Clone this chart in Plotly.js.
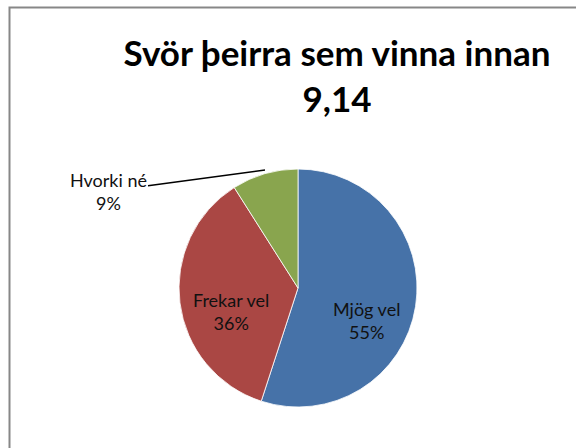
<!DOCTYPE html>
<html>
<head>
<meta charset="utf-8">
<script src="https://cdn.plot.ly/plotly-3.0.1.min.js"></script>
<style>html,body{margin:0;padding:0;background:#fff}#chart{width:576px;height:448px}</style>
</head>
<body>
<div id="chart"></div>
<script>
const categories = ["Mjög vel", "Frekar vel", "Hvorki né"];
const values = [55, 36, 9];
const percentLabels = ["55%", "36%", "9%"];
const sliceColors = ["#4672A8", "#AA4744", "#89A54E"];
const titleText = "Svör þeirra sem vinna innan<br>9,14";

const fontFam = "Lato, 'Open Sans', sans-serif";
const labelFont = {family: fontFam, size: 18, color: "#111111"};

const trace = {
  type: "pie",
  labels: categories,
  values: values,
  sort: false,
  direction: "clockwise",
  rotation: 0,
  marker: {colors: sliceColors, line: {color: "#ffffff", width: 0.8}},
  textinfo: "none",
  hoverinfo: "label+percent",
  domain: {x: [179/576, 417/576], y: [1 - 408/448, 1 - 168/448]},
  showlegend: false
};

// label placement (paper px) for each slice's text
const labelPos = [[366, 320], [231, 311], [108, 191]];

const annotations = categories.map((c, i) => {
  const a = {
    xref: "paper", yref: "paper",
    text: c + "<br>" + percentLabels[i],
    font: labelFont, showarrow: false,
    x: labelPos[i][0] / 576, y: 1 - labelPos[i][1] / 448,
    xanchor: "center", yanchor: "middle"
  };
  return a;
});
// leader line for the small slice
annotations[2] = {
  xref: "paper", yref: "paper",
  x: 265/576, y: 1 - 170/448,
  text: categories[2] + "<br>" + percentLabels[2],
  showarrow: true, arrowhead: 0, arrowwidth: 1.5, arrowcolor: "#000000",
  ax: 108 - 265, ay: 191 - 170,
  font: labelFont
};

const layout = {
  width: 576, height: 448,
  margin: {l: 0, r: 0, t: 0, b: 0},
  paper_bgcolor: "#ffffff",
  title: {
    text: titleText,
    font: {family: fontFam, size: 35, color: "#000000", weight: "bold"},
    x: 337/576, xanchor: "center",
    y: 1 - 66/448, yanchor: "top", yref: "container"
  },
  shapes: [{
    type: "rect", xref: "paper", yref: "paper",
    x0: 9.5/576, x1: 1.2, y0: -0.2, y1: 1 - 7.5/448,
    line: {color: "#878787", width: 2}, fillcolor: "rgba(0,0,0,0)", layer: "below"
  }],
  annotations: annotations
};

Plotly.newPlot("chart", [trace], layout, {staticPlot: true, displayModeBar: false});
</script>
</body>
</html>
